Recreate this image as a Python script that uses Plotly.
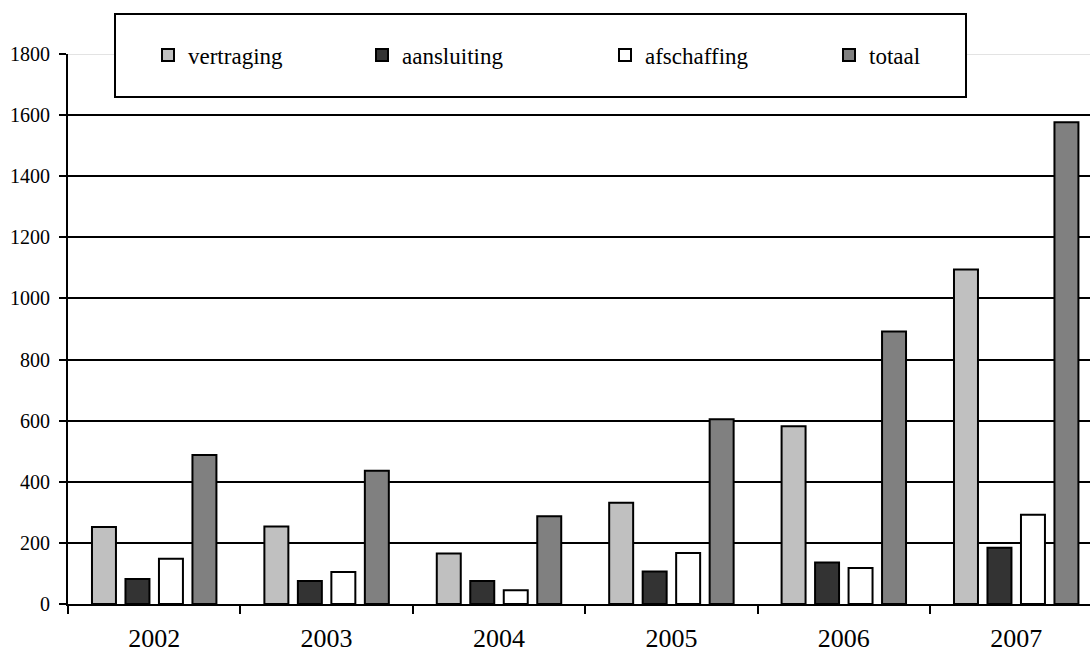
import plotly.graph_objects as go

# Yearly counts per category
years = ["2002", "2003", "2004", "2005", "2006", "2007"]
vertraging = [252, 254, 165, 331, 582, 1095]
aansluiting = [82, 75, 75, 106, 136, 184]
afschaffing = [148, 105, 45, 167, 118, 292]
totaal = [488, 436, 287, 605, 892, 1577]

series_names = ["vertraging", "aansluiting", "afschaffing", "totaal"]
series_values = [vertraging, aansluiting, afschaffing, totaal]
series_colors = ["#C0C0C0", "#333333", "#FFFFFF", "#808080"]

y_ticks = [0, 200, 400, 600, 800, 1000, 1200, 1400, 1600, 1800]
y_max = 1800

FONT = "Liberation Serif"

# left edge (px) of each legend entry, and the legend row centre
legend_x_px = [148, 362, 605, 829]
legend_y_px = 55
W, H = 1090, 655

fig = go.Figure()
legend_ids = ["legend", "legend2", "legend3", "legend4"]
for name, vals, col, lid in zip(series_names, series_values, series_colors, legend_ids):
    fig.add_trace(go.Bar(
        x=years, y=vals, name=name,
        marker=dict(color=col, line=dict(color="black", width=2)),
        legend=lid,
    ))

legend_common = dict(
    orientation="h",
    bgcolor="rgba(0,0,0,0)",
    borderwidth=0,
    font=dict(family=FONT, size=23, color="black"),
    xref="container", yref="container",
    xanchor="left", yanchor="middle",
    itemclick=False,
)
layout_legends = {}
for lid, px in zip(legend_ids, legend_x_px):
    layout_legends[lid] = dict(legend_common, x=px / W, y=1 - legend_y_px / H)

fig.update_layout(
    width=W, height=H,
    margin=dict(l=68, r=0, t=54, b=51, autoexpand=False),
    paper_bgcolor="white", plot_bgcolor="white",
    barmode="group", bargap=0.223, bargroupgap=0.284,
    showlegend=True,
    font=dict(family=FONT, color="black"),
    xaxis=dict(
        type="category",
        range=[-0.5, 5.428],
        showline=True, linecolor="black", linewidth=2,
        ticks="outside", tickson="boundaries", ticklen=8, tickwidth=2, tickcolor="black",
        tickfont=dict(family=FONT, size=26, color="black"),
        ticklabelstandoff=10,
        showgrid=False, zeroline=False,
        fixedrange=True,
    ),
    yaxis=dict(
        range=[0, y_max],
        tickvals=y_ticks,
        ticktext=[str(v) for v in y_ticks],
        showline=True, linecolor="black", linewidth=2,
        ticks="outside", ticklen=7, tickwidth=2, tickcolor="black",
        tickfont=dict(family=FONT, size=20, color="black"),
        ticklabelstandoff=5,
        showgrid=False, zeroline=False,
        minor=dict(
            tickvals=[v for v in y_ticks if 0 < v < y_max],
            showgrid=True, gridcolor="black", gridwidth=2,
            ticks="", ticklen=0,
        ),
        fixedrange=True,
    ),
    shapes=[
        # light top gridline
        dict(type="line", xref="paper", yref="y", x0=0, x1=1, y0=y_max, y1=y_max,
             line=dict(color="#C8C8C8", width=1), layer="above"),
        # legend frame
        dict(type="rect", xref="paper", yref="paper",
             x0=(115 - 68) / 1022, x1=(966 - 68) / 1022,
             y0=(604 - 97) / 550, y1=(604 - 14) / 550,
             fillcolor="white", line=dict(color="black", width=2), layer="above"),
    ],
    **layout_legends,
)

fig.write_html("out.html")
